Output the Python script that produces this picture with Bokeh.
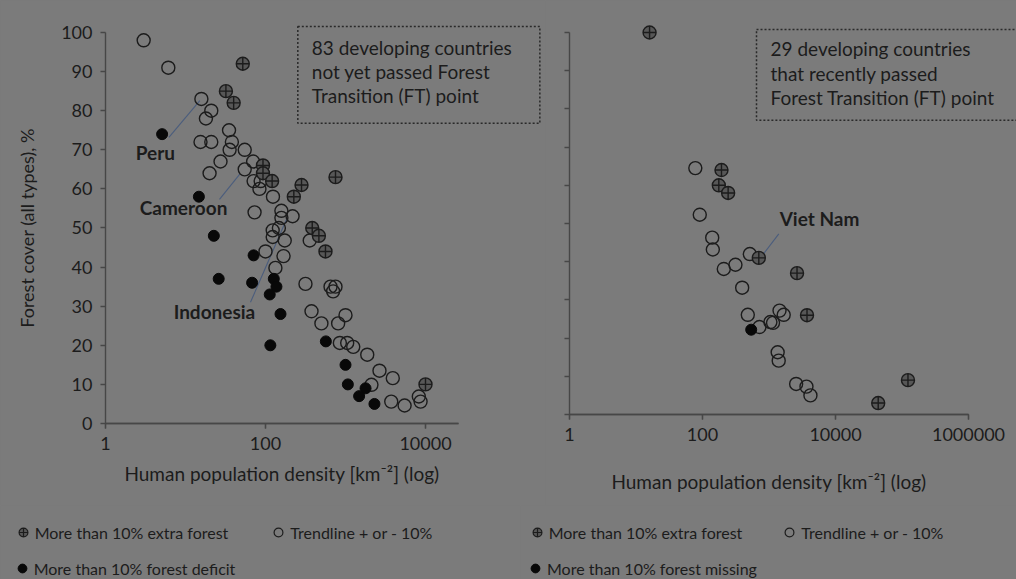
from bokeh.plotting import figure
from bokeh.layouts import row, column
from bokeh.models import (Range1d, FixedTicker, NumeralTickFormatter, Label,
                          Legend, LegendItem)
from bokeh.core.properties import value
from bokeh.embed import file_html
from bokeh.resources import INLINE

# ---------------- data ----------------
# Left panel: 83 developing countries not yet passed FT point
left_extra_x = [52, 32, 40, 93, 93, 121, 282, 226, 750, 384, 465, 562, 10000]
left_extra_y = [92, 85, 82, 66, 64, 62, 61, 58, 63, 50, 48, 44, 10]

left_deficit_x = [5.1, 14.7, 22.6, 71, 26, 68, 127, 137, 113, 154, 115, 568,
                  1000, 1070, 1780, 1480, 2300]
left_deficit_y = [74, 58, 48, 43, 37, 36, 37, 35, 33, 28, 20, 21, 15, 10, 9, 7, 5]

left_trend_x = [3.0, 6.1, 15.8, 21, 18, 35, 15.4, 21, 38, 35.6, 55, 27.4, 70, 20, 55,
                71, 87, 84, 124, 73, 158, 158, 218, 123, 123, 147, 174, 357, 100, 168,
                133, 316, 650, 750, 700, 376, 1000, 500, 809, 850, 1050, 1250, 1870,
                2660, 3900, 2110, 3730, 5480, 8250, 8680]
left_trend_y = [98, 91, 83, 80, 78, 75, 72, 72, 72, 70, 70, 67, 67, 64, 65,
                62, 62, 60, 58, 54, 54.4, 52.6, 53, 49.4, 47.7, 50, 46.8, 46.8, 44, 42.8,
                39.8, 35.7, 35, 35, 33.8, 28.7, 27.7, 25.6, 25.6, 20.6, 20.6, 19.6, 17.6,
                13.5, 11.6, 9.9, 5.6, 4.6, 6.9, 5.6]

# Right panel: 29 developing countries that recently passed FT point
right_extra_x = [16, 193, 176, 243, 703, 2640, 3730, 43900, 123000]
right_extra_y = [100, 64, 60, 58, 41, 37, 26, 3, 9]

right_trend_x = [78, 91, 140, 143, 515, 209, 313, 395, 480, 719, 1050, 1150, 1440,
                 1665, 1350, 1400, 2560, 3660, 4200]
right_trend_y = [64.5, 52.3, 46.3, 43.2, 42, 38.1, 39.2, 33.2, 26.1, 22.9, 24.2, 24,
                 27.2, 26.1, 16.3, 14.1, 8, 7.3, 5]

right_missing_x = [540]
right_missing_y = [22.2]

# tick values and axis extents
y_ticks = [0, 10, 20, 30, 40, 50, 60, 70, 80, 90, 100]
left_x_ticks = [1, 100, 10000]
right_x_ticks = [1, 100, 10000, 1000000]
left_x_end = 10 ** 4.4125
right_x_end = 1e6

# country annotations (label position and leader line)
left_names = ["Peru", "Cameroon", "Indonesia"]
left_name_x = [4.2, 9.45, 23]
left_name_y = [69.3, 55.2, 28.6]
left_lead_x0 = [6.2, 26.6, 64.9]
left_lead_y0 = [73.2, 57.3, 31]
left_lead_x1 = [15.1, 47.7, 186.8]
left_lead_y1 = [82.6, 63.8, 52.6]

right_names = ["Viet Nam"]
right_name_x = [5750]
right_name_y = [51.3]
right_lead_x0 = [1404]
right_lead_y0 = [47.3]
right_lead_x1 = [745]
right_lead_y1 = [41]

left_note = "83 developing countries\nnot yet passed Forest\nTransition (FT) point"
right_note = "29 developing countries\nthat recently passed\nForest Transition (FT) point"

x_title = "Human population density [km\u207b\u00b2] (log)"
y_title = "Forest cover (all types), %"

# ---------------- style ----------------
BG = "#7b7b7b"
INK = "#1c1c1c"
AXC = "#474747"
FONT = "Lato"
EXTRA_FILL = "#575757"
LEAD = "#4b5d7d"


def base_fig(width, height, xr, yr):
    p = figure(width=width, height=height, x_axis_type="log",
               x_range=xr, y_range=yr, output_backend="svg",
               toolbar_location=None, min_border=0,
               background_fill_color=BG, border_fill_color=BG,
               outline_line_color=None)
    p.xgrid.visible = False
    p.ygrid.visible = False
    for ax in (p.xaxis[0], p.yaxis[0]):
        ax.axis_line_color = AXC
        ax.axis_line_width = 1.4
        ax.major_tick_line_color = AXC
        ax.major_tick_line_width = 1.3
        ax.major_tick_out = 5
        ax.major_tick_in = 0
        ax.minor_tick_line_color = None
        ax.major_label_text_font = FONT
        ax.major_label_text_font_size = "18px"
        ax.major_label_text_color = INK
        ax.axis_label_text_font = FONT
        ax.axis_label_text_font_size = "18px"
        ax.axis_label_text_font_style = "normal"
        ax.axis_label_text_color = INK
    p.xaxis.axis_label_text_font_size = "19px"
    p.xaxis.fixed_location = 0
    p.yaxis.fixed_location = 1
    p.yaxis.ticker = FixedTicker(ticks=y_ticks)
    p.yaxis.bounds = (0, 100)
    p.xaxis.formatter = NumeralTickFormatter(format="0")
    p.xaxis.major_label_standoff = 8
    return p


def x_baseline(p, ticks, x_end, px_per_unit):
    # axis rule and outside tick marks along y = 0
    p.segment([ticks[0]], [0], [x_end], [0], line_color=AXC, line_width=1.4)
    p.segment(ticks, [0] * len(ticks), ticks, [-5 / px_per_unit] * len(ticks),
              line_color=AXC, line_width=1.3)


def add_points(p, tx, ty, ex, ey, bx, by):
    p.scatter(tx, ty, marker="circle", size=13, fill_color=None,
              line_color=INK, line_width=1.4)
    p.scatter(ex, ey, marker="circle_cross", size=13, fill_color=EXTRA_FILL,
              line_color=INK, line_width=1.4)
    p.scatter(bx, by, marker="circle", size=11, fill_color="#080808",
              line_color="#080808", line_width=1)


def note(x, y, text, pad):
    return Label(x=x, y=y, text=text, anchor="top_left",
                 text_font=FONT, text_font_size="19px", text_color=INK,
                 text_line_height=1.06,
                 border_line_color="#2a2a2a", border_line_width=1.5,
                 border_line_dash="2 2", background_fill_color=None,
                 padding=pad)


# ---------------- left panel ----------------
left = base_fig(545, 505, Range1d(10 ** -1.3125, 10 ** 5.5), Range1d(-20.97, 108.18))
left.xaxis.ticker = FixedTicker(ticks=left_x_ticks)
left.xaxis.bounds = (1, left_x_end)
left.xaxis.axis_label = x_title
left.xaxis.axis_label_standoff = 9
left.yaxis.axis_label = y_title
left.yaxis.axis_label_standoff = 20
left.yaxis.major_label_standoff = 8
x_baseline(left, left_x_ticks, left_x_end, 3.91)
left.segment(left_lead_x0, left_lead_y0, left_lead_x1, left_lead_y1,
             line_color=LEAD, line_width=1.1)
add_points(left, left_trend_x, left_trend_y, left_extra_x, left_extra_y,
           left_deficit_x, left_deficit_y)
left.text(x=left_name_x, y=left_name_y, text=left_names,
          text_font=value(FONT), text_font_style="bold", text_font_size="19px",
          text_color=INK, text_align="center", text_baseline="middle")
left.add_layout(note(253.5, 101.53, left_note,
                     dict(left=14, right=28, top=9, bottom=16)))

# ---------------- right panel ----------------
right = base_fig(471, 505, Range1d(10 ** -0.3609, 10 ** 6.722), Range1d(-23.82, 108.38))
right.xaxis.ticker = FixedTicker(ticks=right_x_ticks)
right.xaxis.bounds = (1, right_x_end)
right.xaxis.axis_label = x_title
right.xaxis.axis_label_standoff = 26
right.yaxis.major_label_overrides = {v: "" for v in y_ticks}
x_baseline(right, right_x_ticks, right_x_end, 3.82)
right.segment(right_lead_x0, right_lead_y0, right_lead_x1, right_lead_y1,
              line_color=LEAD, line_width=1.1)
add_points(right, right_trend_x, right_trend_y, right_extra_x, right_extra_y,
           right_missing_x, right_missing_y)
right.text(x=right_name_x, y=right_name_y, text=right_names,
           text_font=value(FONT), text_font_style="bold", text_font_size="19px",
           text_color=INK, text_align="center", text_baseline="middle")
right.add_layout(note(649, 100.79, right_note,
                      dict(left=14, right=27, top=8, bottom=11)))


# ---------------- legends ----------------
def legend_fig(width, labels, series, rows_loc, spacing):
    f = figure(width=width, height=74, output_backend="svg",
               toolbar_location=None, x_axis_location=None, y_axis_location=None,
               min_border=0, background_fill_color=BG, border_fill_color=BG,
               outline_line_color=None, x_range=Range1d(0, 1), y_range=Range1d(0, 1))
    f.xgrid.visible = False
    f.ygrid.visible = False
    (ex, ey), (tx, ty), (bx, by) = series
    r_extra = f.scatter(ex, ey, marker="circle_cross", fill_color=EXTRA_FILL,
                        line_color=INK, line_width=1.2, visible=False)
    r_trend = f.scatter(tx, ty, marker="circle", fill_color=None,
                        line_color=INK, line_width=1.2, visible=False)
    r_low = f.scatter(bx, by, marker="circle", fill_color="#080808",
                      line_color="#080808", visible=False)
    groups = [[LegendItem(label=labels[0], renderers=[r_extra]),
               LegendItem(label=labels[1], renderers=[r_trend])],
              [LegendItem(label=labels[2], renderers=[r_low])]]
    for items, loc in zip(groups, rows_loc):
        lg = Legend(items=items, location=loc, orientation="horizontal",
                    glyph_width=22, glyph_height=22, label_standoff=1,
                    spacing=spacing, padding=0, margin=0,
                    border_line_color=None, background_fill_alpha=0,
                    label_text_font=FONT, label_text_font_size="16px",
                    label_text_color=INK)
        f.add_layout(lg)
    return f


leg_left = legend_fig(520, ["More than 10% extra forest", "Trendline + or - 10%",
                            "More than 10% forest deficit"],
                      [(left_extra_x, left_extra_y), (left_trend_x, left_trend_y),
                       (left_deficit_x, left_deficit_y)],
                      [(11.7, 36), (10.7, 0)], 39)
leg_right = legend_fig(496, ["More than 10% extra forest", "Trendline + or - 10%",
                             "More than 10% forest missing"],
                       [(right_extra_x, right_extra_y), (right_trend_x, right_trend_y),
                        (right_missing_x, right_missing_y)],
                       [(5.7, 36), (4.0, 0)], 36)

layout = column(row(left, right, styles={"background-color": BG}),
                row(leg_left, leg_right, styles={"background-color": BG}),
                styles={"background-color": BG})

open("out.html", "w").write(file_html(layout, INLINE))
